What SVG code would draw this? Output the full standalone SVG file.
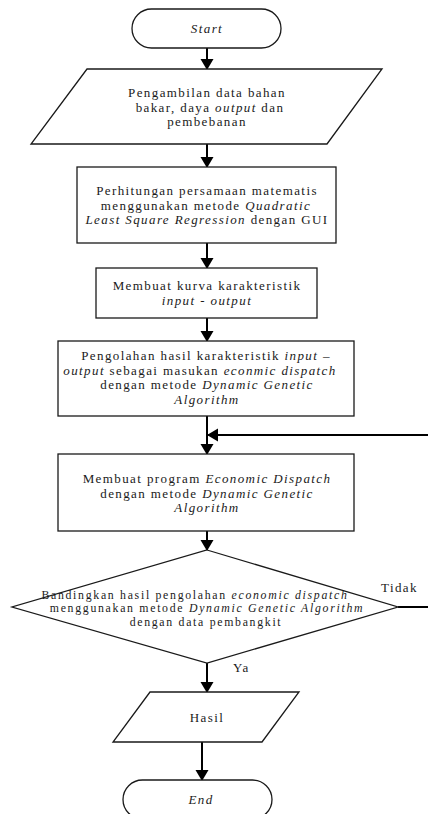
<svg xmlns="http://www.w3.org/2000/svg" width="428" height="814" viewBox="0 0 428 814">
<style>
.s{fill:#ffffff;stroke:#1a1a1a;stroke-width:1.3}
.t{font-family:"Liberation Serif","Times New Roman",serif;font-size:13px;letter-spacing:1.4px;fill:#1a1a1a;text-anchor:middle}
.d{font-size:11.8px;letter-spacing:1.7px}
.l{text-anchor:start}
.i{font-style:italic}
.c{fill:none;stroke:#000;stroke-width:2}
</style>
<defs>
<marker id="ah" markerUnits="userSpaceOnUse" markerWidth="14" markerHeight="14" refX="10" refY="6.5" orient="auto">
<path d="M0,0 L11,6.5 L0,13 Z" fill="#000"/>
</marker>
</defs>
<rect width="428" height="814" fill="#ffffff"/>
<g id="connectors">
<line class="c" x1="207" y1="48" x2="207" y2="69" marker-end="url(#ah)"/>
<line class="c" x1="207" y1="144" x2="207" y2="167" marker-end="url(#ah)"/>
<line class="c" x1="207" y1="243" x2="207" y2="268" marker-end="url(#ah)"/>
<line class="c" x1="207" y1="318" x2="207" y2="341" marker-end="url(#ah)"/>
<line class="c" x1="207" y1="416" x2="207" y2="454" marker-end="url(#ah)"/>
<line class="c" x1="207" y1="531" x2="207" y2="550" marker-end="url(#ah)"/>
<line class="c" x1="207" y1="663" x2="207" y2="692" marker-end="url(#ah)"/>
<line class="c" x1="202" y1="742" x2="202" y2="780" marker-end="url(#ah)"/>
<polyline class="c" points="398,607 432,607 432,435 208,435" marker-end="url(#ah)"/>
</g>
<g id="start">
<rect class="s" x="132" y="9" width="149" height="39" rx="19.5"/>
<text class="t i" x="207" y="33">Start</text>
</g>
<g id="data">
<polygon class="s" points="87,69 382,69 327,144 31,144"/>
<text class="t" x="207" y="97">Pengambilan data bahan</text>
<text class="t" x="210" y="111.5">bakar, daya <tspan class="i">output</tspan> dan</text>
<text class="t" x="207" y="126">pembebanan</text>
</g>
<g id="perhitungan">
<rect class="s" x="77" y="167" width="259" height="76"/>
<text class="t" x="207" y="195">Perhitungan persamaan matematis</text>
<text class="t" x="206" y="209.5">menggunakan metode <tspan class="i">Quadratic</tspan></text>
<text class="t" x="207" y="224"><tspan class="i">Least Square Regression</tspan> dengan GUI</text>
</g>
<g id="kurva">
<rect class="s" x="96" y="268" width="221" height="50"/>
<text class="t" x="207" y="290">Membuat kurva karakteristik</text>
<text class="t i" x="207" y="304.5">input - output</text>
</g>
<g id="pengolahan">
<rect class="s" x="58" y="341" width="296" height="75"/>
<text class="t" x="206" y="360">Pengolahan hasil karakteristik <tspan class="i">input –</tspan></text>
<text class="t" x="200" y="374.5"><tspan class="i">output</tspan> sebagai masukan <tspan class="i">econmic dispatch</tspan></text>
<text class="t" x="207" y="389">dengan metode <tspan class="i">Dynamic Genetic</tspan></text>
<text class="t i" x="207" y="403.5">Algorithm</text>
</g>
<g id="program">
<rect class="s" x="58" y="454" width="296" height="77"/>
<text class="t" x="207" y="483">Membuat program <tspan class="i">Economic Dispatch</tspan></text>
<text class="t" x="207" y="497.5">dengan metode <tspan class="i">Dynamic Genetic</tspan></text>
<text class="t i" x="207" y="512">Algorithm</text>
</g>
<g id="bandingkan">
<polygon class="s" points="207,550 398,607 207,663 12,607"/>
<text class="t d" x="195" y="598.5">Bandingkan hasil pengolahan <tspan class="i">economic dispatch</tspan></text>
<text class="t d" x="207" y="612">menggunakan metode <tspan class="i">Dynamic Genetic Algorithm</tspan></text>
<text class="t d" x="206" y="625.5">dengan data pembangkit</text>
<text class="t l" x="381" y="592">Tidak</text>
<text class="t l" x="233" y="672">Ya</text>
</g>
<g id="hasil">
<polygon class="s" points="150,692 299,692 262,742 113,742"/>
<text class="t" x="207" y="722">Hasil</text>
</g>
<g id="end">
<rect class="s" x="123" y="780" width="149" height="39" rx="19.5"/>
<text class="t i" x="201" y="804">End</text>
</g>
</svg>
